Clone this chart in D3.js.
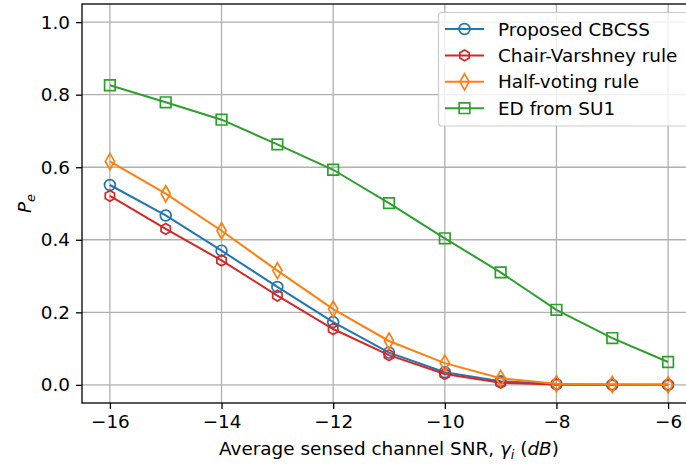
<!DOCTYPE html>
<html>
<head>
<meta charset="utf-8">
<script src="https://cdn.jsdelivr.net/npm/d3@7"></script>
<style>
  html, body { margin: 0; padding: 0; background: #fff; }
  svg { display: block; }
  text { font-family: "DejaVu Sans", sans-serif; fill: #000; }
</style>
</head>
<body>
<svg id="chart" width="686" height="466"></svg>
<script>
// SNR values (dB) on the x axis
const snr = [-16, -15, -14, -13, -12, -11, -10, -9, -8, -7, -6];

// Error probability for each scheme
const proposedCBCSS = [0.551, 0.467, 0.370, 0.270, 0.173, 0.089, 0.035, 0.010, 0.002, 0.000, 0.000];
const chairVarshney = [0.521, 0.430, 0.343, 0.246, 0.154, 0.082, 0.030, 0.006, 0.001, 0.000, 0.000];
const halfVoting    = [0.616, 0.527, 0.425, 0.315, 0.209, 0.121, 0.060, 0.018, 0.003, 0.001, 0.000];
const edFromSU1     = [0.826, 0.779, 0.731, 0.663, 0.593, 0.501, 0.404, 0.310, 0.207, 0.129, 0.063];

const seriesNames = ["Proposed CBCSS", "Chair-Varshney rule", "Half-voting rule", "ED from SU1"];
const xTicks = [-16, -14, -12, -10, -8, -6];
const yTicks = [0.0, 0.2, 0.4, 0.6, 0.8, 1.0];

const series = [
  { name: seriesNames[0], values: proposedCBCSS, color: "#1f77b4", marker: "circle" },
  { name: seriesNames[1], values: chairVarshney, color: "#d62728", marker: "hexagon" },
  { name: seriesNames[2], values: halfVoting,    color: "#ff7f0e", marker: "thinDiamond" },
  { name: seriesNames[3], values: edFromSU1,     color: "#2ca02c", marker: "square" }
];

const svg = d3.select("#chart");
const plot = { left: 82, top: 4, right: 696, bottom: 403 };
const fontSize = 18.4;

const x = d3.scaleLinear().domain([-16.5, -5.5]).range([plot.left, plot.right]);
const y = d3.scaleLinear().domain([-0.05, 1.05]).range([plot.bottom, plot.top]);

// Marker path generators (centered at origin)
function markerPath(kind) {
  const r = 5.4;
  if (kind === "circle") {
    return `M${r},0A${r},${r},0,1,1,${-r},0A${r},${r},0,1,1,${r},0Z`;
  }
  if (kind === "hexagon") {
    const pts = d3.range(6).map(i => {
      const a = -Math.PI / 2 + i * Math.PI / 3;
      return [r * Math.cos(a), r * Math.sin(a)];
    });
    return "M" + pts.map(p => p.join(",")).join("L") + "Z";
  }
  if (kind === "thinDiamond") {
    const h = 8, w = 4.6;
    return `M0,${-h}L${w},0L0,${h}L${-w},0Z`;
  }
  if (kind === "square") {
    const s = 5.3;
    return `M${-s},${-s}H${s}V${s}H${-s}Z`;
  }
}

// Grid lines
const grid = svg.append("g").attr("class", "grid");
grid.selectAll("line.vx").data(xTicks).enter().append("line")
  .attr("x1", d => x(d)).attr("x2", d => x(d))
  .attr("y1", plot.top).attr("y2", plot.bottom)
  .attr("stroke", "#b0b0b0").attr("stroke-width", 1.3);
grid.selectAll("line.hy").data(yTicks).enter().append("line")
  .attr("x1", plot.left).attr("x2", plot.right)
  .attr("y1", d => y(d)).attr("y2", d => y(d))
  .attr("stroke", "#b0b0b0").attr("stroke-width", 1.3);

// Series lines and markers
const line = d3.line().x((d, i) => x(snr[i])).y(d => y(d));
series.forEach(s => {
  const g = svg.append("g");
  g.append("path").datum(s.values)
    .attr("d", line)
    .attr("fill", "none")
    .attr("stroke", s.color)
    .attr("stroke-width", 2);
  g.selectAll("path.mk").data(s.values).enter().append("path")
    .attr("d", markerPath(s.marker))
    .attr("transform", (d, i) => `translate(${x(snr[i])},${y(d)})`)
    .attr("fill", "none")
    .attr("stroke", s.color)
    .attr("stroke-width", 1.7);
});

// Axes
const fmtMinus = d => (d < 0 ? "\u2212" + Math.abs(d) : String(d));
const xAxis = d3.axisBottom(x).tickValues(xTicks).tickFormat(fmtMinus).tickSize(6).tickPadding(6);
const yAxis = d3.axisLeft(y).tickValues(yTicks).tickFormat(d3.format(".1f")).tickSize(6).tickPadding(6);

const gx = svg.append("g").attr("transform", `translate(0,${plot.bottom})`).call(xAxis);
const gy = svg.append("g").attr("transform", `translate(${plot.left},0)`).call(yAxis);
[gx, gy].forEach(g => {
  g.select(".domain").remove();
  g.selectAll(".tick line").attr("stroke", "#000").attr("stroke-width", 1.3);
  g.selectAll(".tick text").attr("font-size", fontSize).attr("font-family", "DejaVu Sans").attr("fill", "#000");
});

// Frame (spines)
svg.append("rect")
  .attr("x", plot.left).attr("y", plot.top)
  .attr("width", plot.right - plot.left).attr("height", plot.bottom - plot.top)
  .attr("fill", "none").attr("stroke", "#000").attr("stroke-width", 1.3);

// Axis labels
const xl = svg.append("text")
  .attr("x", (plot.left + plot.right) / 2).attr("y", 455)
  .attr("text-anchor", "middle").attr("font-size", fontSize);
xl.append("tspan").text("Average sensed channel SNR, ");
xl.append("tspan").attr("font-style", "italic").text("\u03b3");
xl.append("tspan").attr("font-style", "italic").attr("font-size", fontSize * 0.7).attr("dy", 4).text("i");
xl.append("tspan").attr("dy", -4).text(" (");
xl.append("tspan").attr("font-style", "italic").text("dB");
xl.append("tspan").text(")");

const yl = svg.append("text")
  .attr("transform", `translate(31,${(plot.top + plot.bottom) / 2}) rotate(-90)`)
  .attr("text-anchor", "middle").attr("font-size", fontSize);
yl.append("tspan").attr("font-style", "italic").text("P");
yl.append("tspan").attr("font-style", "italic").attr("font-size", fontSize * 0.7).attr("dy", 4).text("e");

// Legend
const legend = svg.append("g");
legend.append("rect")
  .attr("x", 438.5).attr("y", 12.5).attr("width", 252).attr("height", 113.5)
  .attr("rx", 3).attr("ry", 3)
  .attr("fill", "#fff").attr("fill-opacity", 0.8)
  .attr("stroke", "#cccccc").attr("stroke-width", 1.2);
series.forEach((s, i) => {
  const cy = 29 + i * 26.4;
  legend.append("line")
    .attr("x1", 445).attr("x2", 484).attr("y1", cy).attr("y2", cy)
    .attr("stroke", s.color).attr("stroke-width", 2);
  legend.append("path")
    .attr("d", markerPath(s.marker))
    .attr("transform", `translate(464.5,${cy})`)
    .attr("fill", "none").attr("stroke", s.color).attr("stroke-width", 1.7);
  legend.append("text")
    .attr("x", 498).attr("y", cy).attr("dy", "0.36em")
    .attr("font-size", fontSize).text(s.name);
});
</script>
</body>
</html>
